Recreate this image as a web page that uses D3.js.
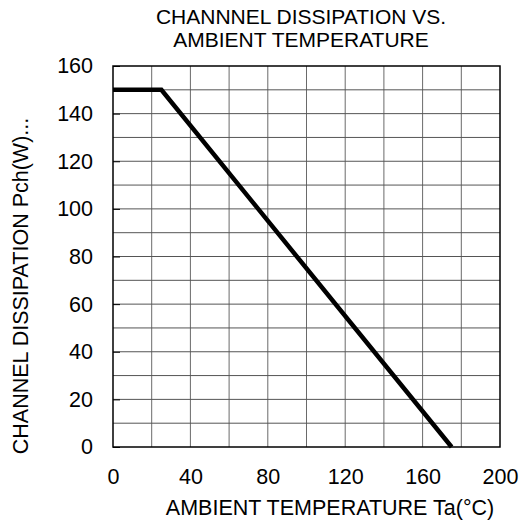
<!DOCTYPE html>
<html>
<head>
<meta charset="utf-8">
<script src="https://cdn.jsdelivr.net/npm/d3@7"></script>
<style>
  body { margin: 0; background: #fff; }
  text { font-family: "Liberation Sans", Arial, sans-serif; fill: #000; }
</style>
</head>
<body>
<div id="chart"></div>
<script>
// Derating curve data
const tempValues = [0, 25, 175];
const powerValues = [150, 150, 0];
const xTicks = [0, 40, 80, 120, 160, 200];
const yTicks = [0, 20, 40, 60, 80, 100, 120, 140, 160];
const titleLines = ["CHANNNEL DISSIPATION VS.", "AMBIENT TEMPERATURE"];

const width = 521, height = 525;
const margin = { top: 66, right: 21, bottom: 78, left: 113 };

const svg = d3.select("#chart")
    .append("svg")
    .attr("width", width)
    .attr("height", height);

const xScale = d3.scaleLinear()
    .domain([0, 200])
    .range([margin.left, width - margin.right]);

const yScale = d3.scaleLinear()
    .domain([0, 160])
    .range([height - margin.bottom, margin.top]);

// grid lines
svg.append("g")
    .selectAll("line")
    .data(d3.range(20, 200, 20))
    .join("line")
    .attr("x1", d => xScale(d)).attr("x2", d => xScale(d))
    .attr("y1", yScale(0)).attr("y2", yScale(160))
    .attr("stroke", "#6a6a6a")
    .attr("stroke-width", 1);

svg.append("g")
    .selectAll("line")
    .data(d3.range(10, 160, 10))
    .join("line")
    .attr("x1", xScale(0)).attr("x2", xScale(200))
    .attr("y1", d => yScale(d)).attr("y2", d => yScale(d))
    .attr("stroke", "#555")
    .attr("stroke-width", 1);

// axes
const xAxis = d3.axisBottom(xScale).tickValues(xTicks).tickSize(0).tickPadding(22);
const xAxisGroup = svg.append("g")
    .attr("transform", `translate(0, ${yScale(0)})`)
    .call(xAxis);
xAxisGroup.select(".domain").remove();
xAxisGroup.selectAll("text")
    .style("font-size", "21.5px")
    .style("font-family", "'Liberation Sans', Arial, sans-serif");

const yAxis = d3.axisLeft(yScale).tickValues(yTicks).tickSize(-7).tickPadding(20);
const yAxisGroup = svg.append("g")
    .attr("transform", `translate(${xScale(0)}, 0)`)
    .call(yAxis);
yAxisGroup.select(".domain").remove();
yAxisGroup.selectAll("line").attr("stroke", "#000");
yAxisGroup.selectAll("text")
    .style("font-size", "21.5px")
    .style("font-family", "'Liberation Sans', Arial, sans-serif");

// plot frame
svg.append("rect")
    .attr("x", xScale(0))
    .attr("y", yScale(160))
    .attr("width", xScale(200) - xScale(0))
    .attr("height", yScale(0) - yScale(160))
    .attr("fill", "none")
    .attr("stroke", "#000")
    .attr("stroke-width", 1.5);

// curve
const line = d3.line()
    .x((d, i) => xScale(tempValues[i]))
    .y(d => yScale(d));

svg.append("path")
    .datum(powerValues)
    .attr("d", line)
    .attr("fill", "none")
    .attr("stroke", "#000")
    .attr("stroke-width", 4.5)
    .attr("stroke-linejoin", "miter");

// title, one text per line
svg.append("g")
    .selectAll("text")
    .data(titleLines)
    .join("text")
    .attr("x", 301)
    .attr("y", (d, i) => 24 + i * 23)
    .attr("text-anchor", "middle")
    .style("font-size", "21px")
    .text(d => d);

// axis titles
svg.append("text")
    .attr("x", 330)
    .attr("y", 515)
    .attr("text-anchor", "middle")
    .style("font-size", "21.5px")
    .text("AMBIENT TEMPERATURE Ta(°C)");

svg.append("text")
    .attr("transform", "translate(28, 286) rotate(-90)")
    .attr("text-anchor", "middle")
    .style("font-size", "21.5px")
    .text("CHANNEL DISSIPATION Pch(W)...");
</script>
</body>
</html>
